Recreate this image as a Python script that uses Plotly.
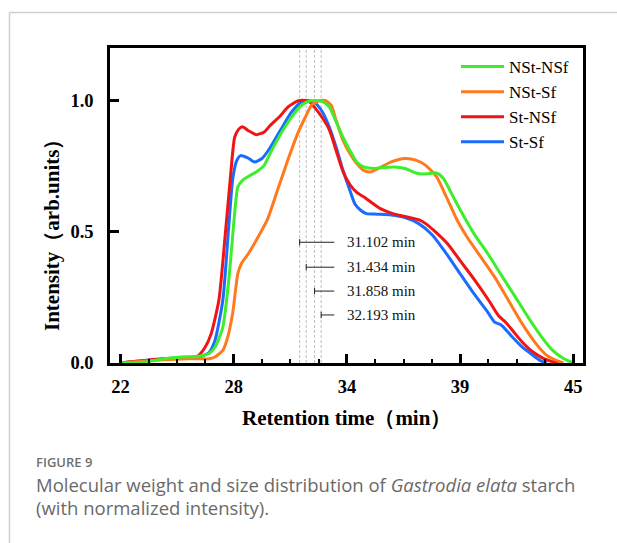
import plotly.graph_objects as go

# ---------------- data ----------------
red_x = [22.0, 24.2, 25.4, 25.9, 26.3, 26.6, 27.0, 27.3, 27.6, 27.8, 28.0, 28.2, 28.5, 28.9, 29.3, 29.6,
         30.1, 30.5, 31.0, 31.4, 31.6, 31.9, 32.2, 32.6, 32.95, 33.3, 33.65, 34.0, 34.35, 34.7, 35.2,
         35.8, 36.5, 37.2, 37.5, 37.9, 38.6, 39.3, 40.0, 40.7, 41.2, 41.55, 41.9, 42.4, 42.95, 43.5,
         44.0, 44.35]
red_y = [0.0, 0.016, 0.02, 0.025, 0.06, 0.11, 0.24, 0.47, 0.72, 0.86, 0.89, 0.90, 0.885, 0.87, 0.88,
         0.905, 0.94, 0.975, 0.998, 1.0, 0.995, 0.97, 0.94, 0.89, 0.81, 0.73, 0.68, 0.65, 0.633, 0.614,
         0.588, 0.57, 0.557, 0.544, 0.531, 0.506, 0.455, 0.385, 0.315, 0.239, 0.18, 0.156, 0.125, 0.08,
         0.042, 0.017, 0.004, 0.0]

blue_x = [22.0, 24.2, 25.4, 25.9, 26.5, 26.8, 27.2, 27.5, 27.7, 27.9, 28.1, 28.5, 28.8, 29.2, 29.6, 30.15,
          30.7, 31.2, 31.55, 31.9, 32.25, 32.6, 32.95, 33.3, 33.65, 33.9, 34.2, 34.5, 35.05, 35.75,
          36.45, 37.15, 37.85, 38.55, 39.25, 39.95, 40.65, 41.0, 41.35, 41.9, 42.4, 42.95, 43.3, 43.65]
blue_y = [0.0, 0.016, 0.02, 0.02, 0.04, 0.086, 0.24, 0.52, 0.70, 0.77, 0.79, 0.78, 0.766, 0.78, 0.82,
          0.89, 0.957, 0.995, 1.0, 0.99, 0.957, 0.90, 0.823, 0.734, 0.658, 0.607, 0.582, 0.569, 0.567,
          0.564, 0.554, 0.531, 0.487, 0.417, 0.34, 0.264, 0.194, 0.156, 0.144, 0.099, 0.061, 0.029,
          0.01, 0.0]

green_x = [22.0, 23.3, 24.2, 25.1, 25.9, 26.5, 26.8, 27.2, 27.5, 27.8, 27.96, 28.2, 28.6, 28.9, 29.3,
           29.6, 30.15, 30.7, 31.2, 31.55, 31.9, 32.25, 32.6, 32.95, 33.3, 33.65, 34.0, 34.35, 34.9,
           35.4, 35.9, 36.45, 37.0, 37.35, 37.7, 38.05, 38.4, 38.9, 39.45, 39.95, 40.65, 41.35, 42.05,
           42.75, 43.45, 43.95, 44.5, 45.0]
green_y = [0.0, 0.004, 0.016, 0.023, 0.025, 0.036, 0.06, 0.137, 0.315, 0.57, 0.67, 0.696, 0.715, 0.728,
           0.753, 0.798, 0.874, 0.938, 0.982, 0.997, 1.0, 0.997, 0.976, 0.92, 0.86, 0.81, 0.766, 0.747,
           0.741, 0.745, 0.747, 0.741, 0.724, 0.72, 0.722, 0.724, 0.703, 0.633, 0.557, 0.493, 0.417,
           0.334, 0.252, 0.169, 0.093, 0.048, 0.017, 0.0]

orange_x = [22.0, 24.2, 25.4, 25.9, 26.5, 26.8, 27.2, 27.4, 27.7, 27.96, 28.15, 28.5, 28.9, 29.45, 29.95,
            30.5, 31.0, 31.4, 31.7, 32.1, 32.4, 32.7, 32.95, 33.3, 33.65, 34.0, 34.35, 34.7, 35.25,
            35.75, 36.45, 37.0, 37.5, 38.05, 38.55, 39.1, 39.6, 40.3, 41.0, 41.7, 42.4, 43.1, 43.65,
            44.2, 44.5]
orange_y = [0.0, 0.012, 0.016, 0.016, 0.016, 0.023, 0.048, 0.086, 0.19, 0.34, 0.38, 0.417, 0.468, 0.544,
            0.652, 0.773, 0.874, 0.938, 0.982, 0.999, 1.0, 0.982, 0.925, 0.849, 0.798, 0.76, 0.734,
            0.728, 0.747, 0.766, 0.779, 0.773, 0.753, 0.71, 0.633, 0.544, 0.48, 0.404, 0.328, 0.239,
            0.15, 0.074, 0.029, 0.008, 0.0]

series_names = ["St-Sf", "St-NSf", "NSt-Sf", "NSt-NSf"]
series_colors = ["#1a6cff", "#f01414", "#ff7a1e", "#3cee2c"]

peak_times = [31.102, 31.434, 31.858, 32.193]
peak_label_y = [0.46, 0.365, 0.274, 0.183]
peak_label_line_end = 32.86
peak_label_text_x = 33.38

x_tick_vals = [22, 27.75, 33.5, 39.25, 45]
x_tick_text = ["22", "28", "34", "39", "45"]
y_tick_vals = [0, 0.5, 1.0]
y_tick_text = ["0.0", "0.5", "1.0"]

caption_label = "FIGURE 9"
caption_line1 = "Molecular weight and size distribution of <i>Gastrodia elata</i> starch"
caption_line2 = "(with normalized intensity)."

# ---------------- figure ----------------
W, H = 617, 543
ML, MR, MT, MB = 110, 34, 48, 180
PW, PH = W - ML - MR, H - MT - MB


def px2paper_x(px):
    return (px - ML) / PW


def px2paper_y(py):
    return (H - MB - py) / PH


serif = "Times New Roman, Liberation Serif, serif"
fig = go.Figure()
all_x = [blue_x, red_x, orange_x, green_x]
all_y = [blue_y, red_y, orange_y, green_y]
for xs, ys, nm, col in zip(all_x, all_y, series_names, series_colors):
    fig.add_trace(go.Scatter(x=xs, y=ys, mode="lines", name=nm,
                             line=dict(color=col, width=3, shape="spline", smoothing=0.6)))

shapes = []
# dashed vertical lines at peak times
for pt in peak_times:
    shapes.append(dict(type="line", xref="x", yref="paper", x0=pt, x1=pt, y0=0, y1=1,
                       line=dict(color="#bdbdbd", width=1, dash="3px,2px"), layer="below"))
# label leader lines with caps
annotations = []
for pt, ly in zip(peak_times, peak_label_y):
    shapes.append(dict(type="line", xref="x", yref="y", x0=pt, x1=peak_label_line_end, y0=ly, y1=ly,
                       line=dict(color="#222222", width=1)))
    shapes.append(dict(type="line", xref="x", yref="y", x0=pt, x1=pt, y0=ly - 0.012, y1=ly + 0.012,
                       line=dict(color="#222222", width=1)))
    annotations.append(dict(x=peak_label_text_x, y=ly, xref="x", yref="y", xanchor="left",
                            yanchor="middle", showarrow=False, text=f"{pt:.3f} min",
                            font=dict(family=serif, size=15, color="#111111")))

# page frame lines (light gray)
shapes.append(dict(type="line", xref="paper", yref="paper", x0=px2paper_x(9.5), x1=px2paper_x(620),
                   y0=px2paper_y(12.5), y1=px2paper_y(12.5), line=dict(color="#cfcfcf", width=1.5)))
shapes.append(dict(type="line", xref="paper", yref="paper", x0=px2paper_x(9.5), x1=px2paper_x(9.5),
                   y0=px2paper_y(12.5), y1=px2paper_y(560), line=dict(color="#cfcfcf", width=1.5)))

# axis titles
annotations.append(dict(x=px2paper_x(52), y=px2paper_y(230), xref="paper", yref="paper", textangle=-90,
                        showarrow=False, xanchor="center", yanchor="middle",
                        text="Intensity（arb.units）",
                        font=dict(family=serif, size=21, color="#000000", weight="bold")))
annotations.append(dict(x=0.5, y=px2paper_y(418), xref="paper", yref="paper",
                        showarrow=False, xanchor="center", yanchor="middle",
                        text="Retention time（min）",
                        font=dict(family=serif, size=21, color="#000000", weight="bold")))
# caption
cap_font = dict(family="Open Sans, sans-serif", size=18.5, color="#6a6a6a")
annotations.append(dict(x=px2paper_x(34), y=px2paper_y(462), xref="paper", yref="paper",
                        showarrow=False, xanchor="left", yanchor="middle", text=caption_label,
                        font=dict(family="Open Sans, sans-serif", size=13, color="#707070",
                                  weight=600)))
annotations.append(dict(x=px2paper_x(34), y=px2paper_y(484), xref="paper", yref="paper",
                        showarrow=False, xanchor="left", yanchor="middle", text=caption_line1,
                        font=cap_font))
annotations.append(dict(x=px2paper_x(34), y=px2paper_y(507), xref="paper", yref="paper",
                        showarrow=False, xanchor="left", yanchor="middle", text=caption_line2,
                        font=cap_font))

# minor ticks between the major ticks
minor_vals = []
for a, b in zip(x_tick_vals[:-1], x_tick_vals[1:]):
    step = (b - a) / 4
    minor_vals += [a + step * k for k in (1, 2, 3)]

fig.update_layout(
    width=W, height=H, margin=dict(l=ML, r=MR, t=MT, b=MB),
    paper_bgcolor="white", plot_bgcolor="white",
    showlegend=True,
    legend=dict(x=px2paper_x(456), y=px2paper_y(49), xanchor="left", yanchor="top",
                traceorder="reversed", bgcolor="rgba(0,0,0,0)", itemwidth=43,
                font=dict(family=serif, size=17, color="#000000")),
    xaxis=dict(range=[21.47, 45.49], tickmode="array", tickvals=x_tick_vals, ticktext=x_tick_text,
               ticks="inside", ticklen=9, tickwidth=2.5, tickcolor="black",
               showline=True, linecolor="black", linewidth=2.5, mirror=True,
               showgrid=False, zeroline=False, ticklabelstandoff=5,
               tickfont=dict(family=serif, size=18.5, color="black", weight="bold"),
               minor=dict(tickmode="array", tickvals=minor_vals, ticks="inside", ticklen=4,
                          tickwidth=2, tickcolor="black", showgrid=False)),
    yaxis=dict(range=[0, 1.2], tickmode="array", tickvals=y_tick_vals, ticktext=y_tick_text,
               ticks="inside", ticklen=9, tickwidth=2.5, tickcolor="black",
               showline=True, linecolor="black", linewidth=2.5, mirror=True,
               showgrid=False, zeroline=False, ticklabelstandoff=10,
               tickfont=dict(family=serif, size=18.5, color="black", weight="bold")),
    shapes=shapes, annotations=annotations,
)

fig.write_html("out.html")
